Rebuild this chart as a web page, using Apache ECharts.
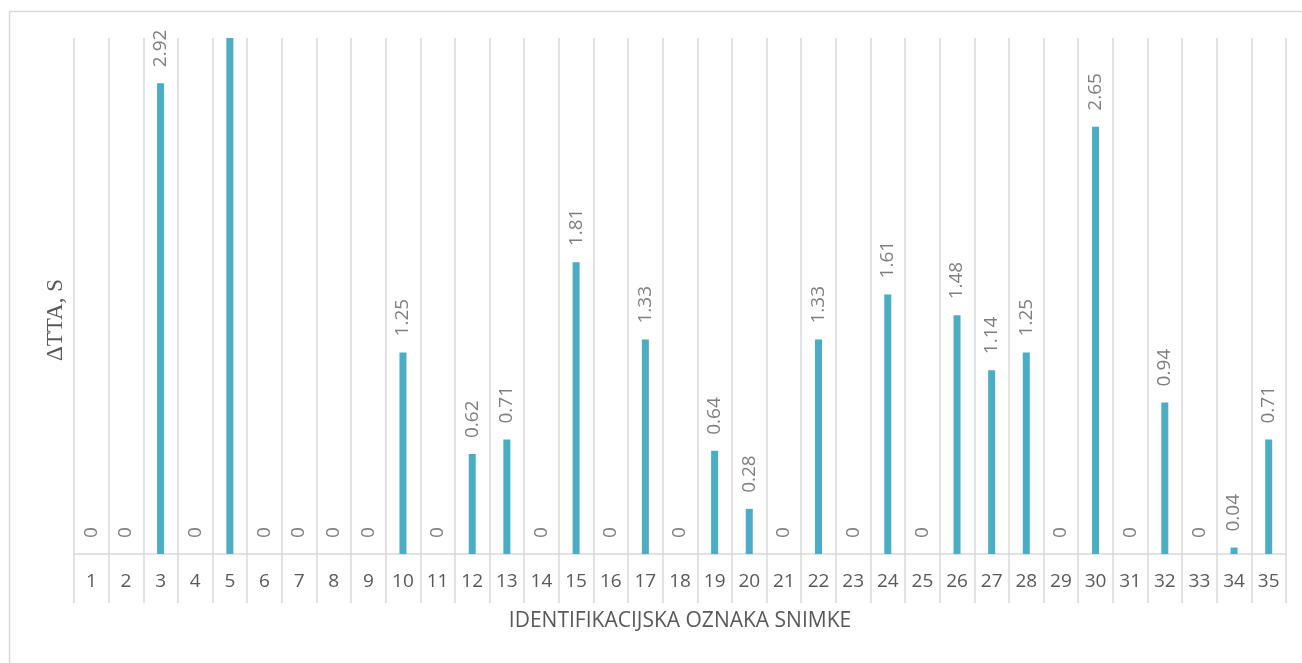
<!DOCTYPE html>
<html>
<head>
<meta charset="utf-8">
<script src="https://cdn.jsdelivr.net/npm/echarts@6/dist/echarts.min.js"></script>
<style>html,body{margin:0;padding:0;background:#fff;}#c{width:1302px;height:663px;}</style>
</head>
<body>
<div id="c"></div>
<script>
const categories = ['1','2','3','4','5','6','7','8','9','10','11','12','13','14','15','16','17','18','19','20','21','22','23','24','25','26','27','28','29','30','31','32','33','34','35'];
const values = [0,0,2.92,0,3.4,0,0,0,0,1.25,0,0.62,0.71,0,1.81,0,1.33,0,0.64,0.28,0,1.33,0,1.61,0,1.48,1.14,1.25,0,2.65,0,0.94,0,0.04,0.71];
const yMax = 3.2;
const xTitle = 'IDENTIFIKACIJSKA OZNAKA SNIMKE';
const yTitle = '\u0394TTA, S';

const chart = echarts.init(document.getElementById('c'));
chart.setOption({
  animation: false,
  backgroundColor: '#ffffff',
  graphic: [{
    type: 'rect', left: 7, top: 9, silent: true,
    shape: { width: 1310, height: 670 },
    style: { fill: 'none', stroke: '#d9d9d9', lineWidth: 1.5 }
  }],
  grid: { left: 74, right: 16, top: 38, bottom: 109, containLabel: false },
  xAxis: {
    type: 'category',
    data: categories,
    boundaryGap: true,
    axisLine: { show: true, lineStyle: { color: '#d9d9d9', width: 1.5 } },
    axisTick: { show: true, length: 49, interval: 0, lineStyle: { color: '#d9d9d9', width: 1.5 } },
    splitLine: { show: true, interval: 0, lineStyle: { color: '#d9d9d9', width: 1.5 } },
    axisLabel: { interval: 0, margin: 18, color: '#595959', fontSize: 19, fontFamily: 'Open Sans' },
    name: xTitle,
    nameLocation: 'middle',
    nameGap: 57,
    nameTextStyle: { color: '#595959', fontSize: 21, fontFamily: 'Open Sans' }
  },
  yAxis: {
    type: 'value',
    min: 0, max: yMax,
    axisLine: { show: false },
    axisTick: { show: false },
    axisLabel: { show: false },
    splitLine: { show: false },
    name: yTitle,
    nameLocation: 'middle',
    nameRotate: 90,
    nameGap: 7,
    nameTextStyle: { color: '#595959', fontSize: 23, fontFamily: 'Liberation Serif', padding: [0, 48, 0, 0] }
  },
  series: [{
    type: 'bar',
    data: values,
    barWidth: 7,
    clip: true,
    itemStyle: { color: '#4bacc6' },
    label: {
      show: true,
      position: 'top',
      rotate: 90,
      align: 'left',
      verticalAlign: 'middle',
      distance: 16,
      color: '#7f7f7f',
      fontSize: 19,
      fontFamily: 'Open Sans',
      formatter: p => (p.value > yMax ? '' : String(p.value))
    }
  }]
});
</script>
</body>
</html>
